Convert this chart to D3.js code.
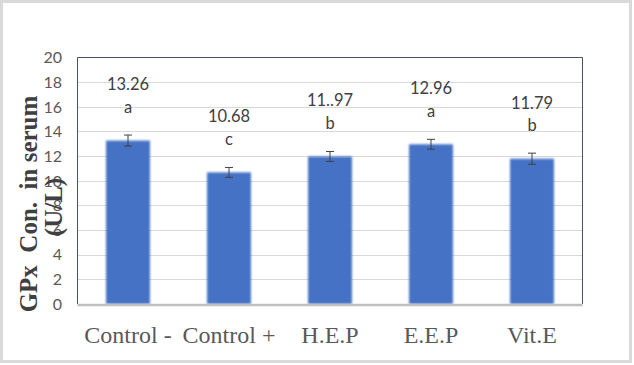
<!DOCTYPE html>
<html><head><meta charset="utf-8">
<script src="https://cdn.jsdelivr.net/npm/d3@7"></script>
<style>html,body{margin:0;padding:0;background:#fff;}svg{display:block;}</style>
</head><body>
<script>
const categories = ["Control -", "Control +", "H.E.P", "E.E.P", "Vit.E"];
const values = [13.26, 10.68, 11.97, 12.96, 11.79];
const errors = [0.45, 0.4, 0.4, 0.4, 0.45];
const valueLabels = ["13.26", "10.68", "11..97", "12.96", "11.79"];
const letters = ["a", "c", "b", "a", "b"];
const yTicks = [0, 2, 4, 6, 8, 10, 12, 14, 16, 18, 20];
const yTitle = ["GPx\u00a0\u00a0Con.\u00a0\u00a0in serum", "(U/L)"];

const W = 634, H = 365;
const m = {left: 77.5, top: 57.5, right: 51.5, bottom: 61};
const svg = d3.select("body").append("svg").attr("width", W).attr("height", H);

svg.append("rect").attr("x", 1.5).attr("y", 1.5).attr("width", 629).attr("height", 360)
  .attr("fill", "#fff").attr("stroke", "#d9d9d9").attr("stroke-width", 3);

const x = d3.scaleBand().domain(categories).range([m.left, W - m.right]).paddingInner(0.565).paddingOuter(0.2825);
const y = d3.scaleLinear().domain([0, 20]).range([H - m.bottom, m.top]);

const defs = svg.append("defs");
const f = defs.append("filter").attr("id", "soft").attr("x", "-20%").attr("y", "-5%").attr("width", "140%").attr("height", "110%");
f.append("feGaussianBlur").attr("stdDeviation", 1.1);

// gridlines
svg.append("g").selectAll("line").data(yTicks.filter(t => t > 0 && t < 20)).join("line")
  .attr("x1", m.left).attr("x2", W - m.right)
  .attr("y1", d => Math.round(y(d)) + 0.5).attr("y2", d => Math.round(y(d)) + 0.5)
  .attr("stroke", "#d9d9d9").attr("stroke-width", 1);

// plot border (left, top, right)
svg.append("path")
  .attr("d", `M${m.left},${y(0)}V${y(20)}H${W - m.right}V${y(0)}`)
  .attr("fill", "none").attr("stroke", "#44546a").attr("stroke-width", 1);

// bars
svg.append("g").selectAll("rect").data(values).join("rect")
  .attr("x", (d, i) => x(categories[i]))
  .attr("y", d => y(d))
  .attr("width", x.bandwidth())
  .attr("height", d => y(0) - y(d))
  .attr("fill", "#4472c4")
  .attr("filter", "url(#soft)");

// bottom axis
svg.append("line").attr("x1", m.left).attr("x2", W - m.right)
  .attr("y1", y(0) + 1).attr("y2", y(0) + 1)
  .attr("stroke", "#bfbfbf").attr("stroke-width", 2.5);

// error bars
const eb = svg.append("g").attr("stroke", "#404040").attr("stroke-width", 1);
values.forEach((v, i) => {
  const cx = x(categories[i]) + x.bandwidth() / 2;
  eb.append("line").attr("x1", cx).attr("x2", cx).attr("y1", y(v - errors[i])).attr("y2", y(v + errors[i]));
  eb.append("line").attr("x1", cx - 4).attr("x2", cx + 4).attr("y1", y(v + errors[i])).attr("y2", y(v + errors[i]));
  eb.append("line").attr("x1", cx - 4).attr("x2", cx + 4).attr("y1", y(v - errors[i])).attr("y2", y(v - errors[i]));
});

// y tick labels
svg.append("g").selectAll("text").data(yTicks).join("text")
  .attr("x", 62).attr("y", d => y(d)).attr("dy", "0.36em")
  .attr("text-anchor", "end")
  .attr("font-family", "Lato, 'Open Sans', sans-serif").attr("font-size", 16)
  .attr("fill", "#595959").text(d => d);

// x labels
svg.append("g").selectAll("text").data(categories).join("text")
  .attr("x", d => x(d) + x.bandwidth() / 2).attr("y", 342.5)
  .attr("text-anchor", "middle")
  .attr("font-family", "'Liberation Serif', serif").attr("font-size", 24)
  .attr("fill", "#595959").text(d => d);

// value labels and letters
const lab = svg.append("g").attr("font-family", "Lato, 'Open Sans', sans-serif").attr("font-size", 16.5)
  .attr("fill", "#404040").attr("text-anchor", "middle");
values.forEach((v, i) => {
  const cx = x(categories[i]) + x.bandwidth() / 2;
  lab.append("text").attr("x", cx).attr("y", y(v + 4.55)).attr("dy", "0.36em").text(valueLabels[i]);
  lab.append("text").attr("x", cx).attr("y", y(v + 2.7)).attr("dy", "0.36em").text(letters[i]);
});

// y title (two lines, rotated)
const t = svg.append("text").attr("transform", "translate(0,204) rotate(-90)")
  .attr("text-anchor", "middle")
  .attr("font-family", "'Liberation Serif', serif").attr("font-size", 25).attr("font-weight", "bold")
  .attr("fill", "#404040");
t.append("tspan").attr("x", 0).attr("y", 37).text(yTitle[0]);
t.append("tspan").attr("x", -3).attr("y", 62).text(yTitle[1]);
</script>
</body></html>
